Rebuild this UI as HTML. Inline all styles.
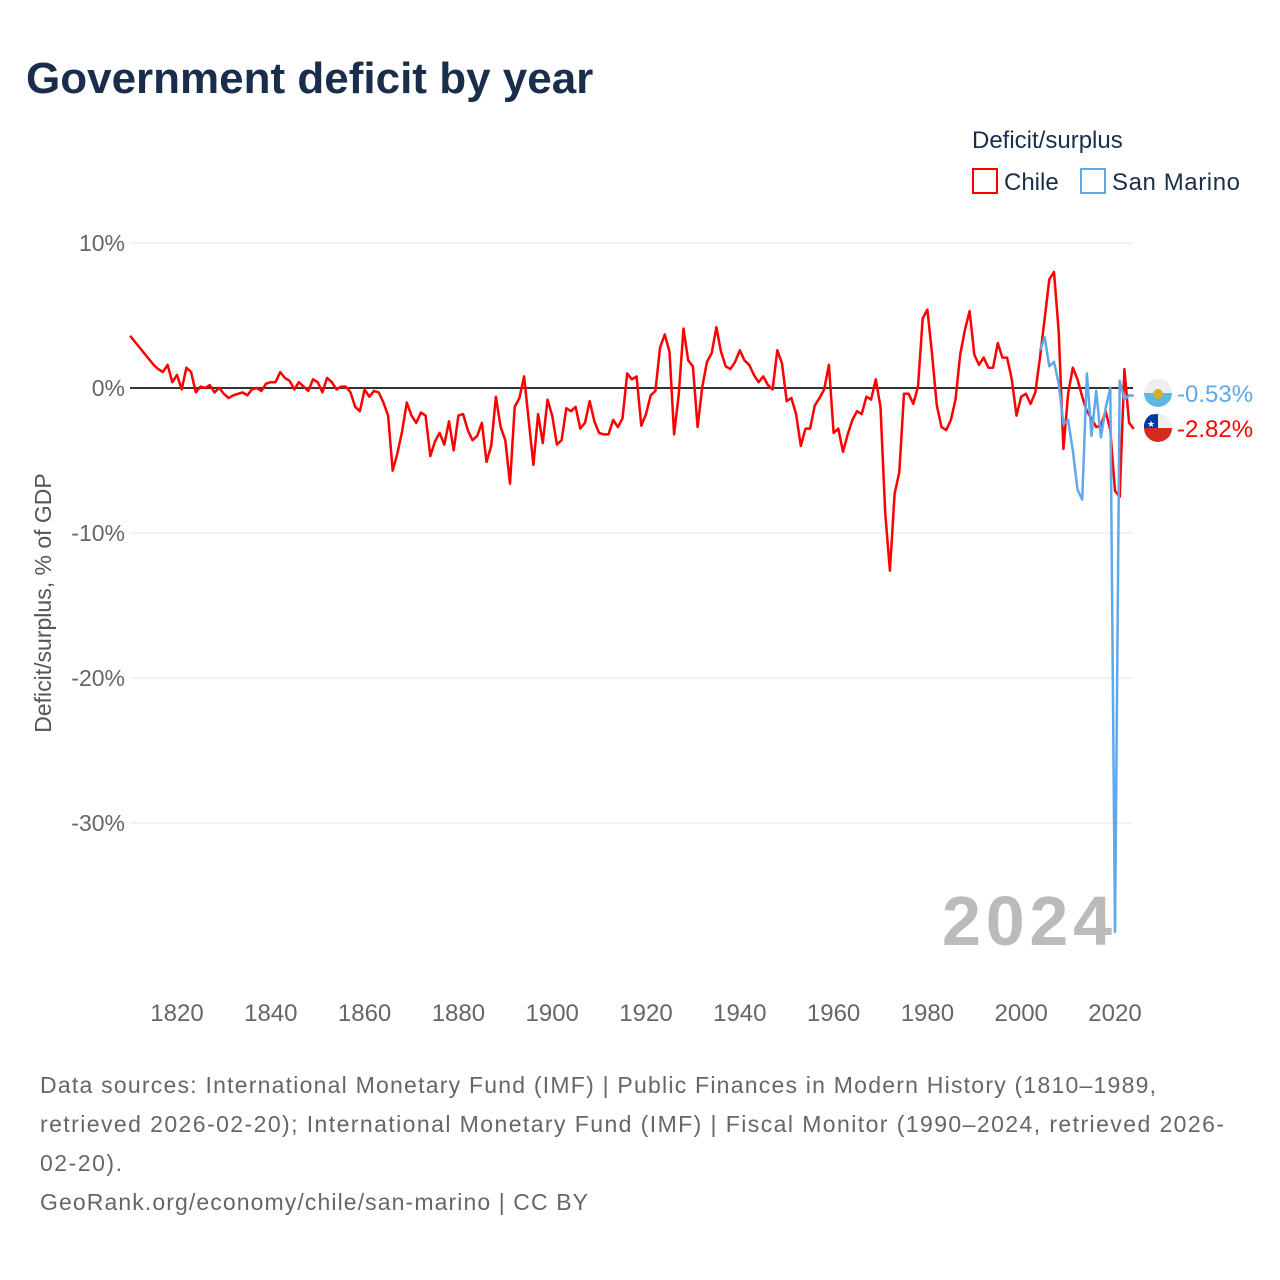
<!DOCTYPE html>
<html><head><meta charset="utf-8">
<style>
html,body{margin:0;padding:0;background:#fff;}
body{width:1280px;height:1280px;position:relative;font-family:"Liberation Sans",sans-serif;overflow:hidden;}
svg{position:absolute;left:0;top:0;}
</style></head>
<body>
<svg id="chart" width="1280" height="1280">
<text x="26" y="93" font-size="44" font-weight="bold" fill="#1a2e4c">Government deficit by year</text>
<text x="972" y="148" font-size="24" fill="#1a2e4c">Deficit/surplus</text>
<g>
<rect x="973" y="169" width="24" height="24" fill="none" stroke="#ff0000" stroke-width="2"/>
<text x="1004" y="190" font-size="24" fill="#1a2e4c">Chile</text></g>
<g>
<rect x="1081" y="169" width="24" height="24" fill="none" stroke="#5ea8ec" stroke-width="2"/>
<text x="1112" y="190" font-size="24" fill="#1a2e4c" textLength="128">San Marino</text></g>
<text transform="translate(51,603) rotate(-90)" text-anchor="middle" font-size="23" fill="#555">Deficit/surplus, % of GDP</text>
<text x="942" y="945" font-size="70" font-weight="bold" fill="#bbb" textLength="170">2024</text>
<g id="grid"></g><g id="series"></g>
<text x="40" y="1093" font-size="23" fill="#666" textLength="1116">Data sources: International Monetary Fund (IMF) | Public Finances in Modern History (1810–1989,</text>
<text x="40" y="1132" font-size="23" fill="#666" textLength="1184">retrieved 2026-02-20); International Monetary Fund (IMF) | Fiscal Monitor (1990–2024, retrieved 2026-</text>
<text x="40" y="1171" font-size="23" fill="#666" textLength="82">02-20).</text>
<text x="40" y="1210" font-size="23" fill="#666" textLength="548">GeoRank.org/economy/chile/san-marino | CC BY</text>
</svg>
<script>
const yTicks=[10,0,-10,-20,-30];
const yTickLabels=["10%","0%","-10%","-20%","-30%"];
const xTicks=[1820,1840,1860,1880,1900,1920,1940,1960,1980,2000,2020];
const chileStart=1810;
const chileValues=[3.6,3.2,2.8,2.4,2.0,1.6,1.3,1.1,
1.6,0.4,0.9,-0.1,1.4,1.1,-0.3,0.1,0,0.2,-0.3,0,-0.4,-0.7,-0.5,-0.4,-0.3,-0.5,-0.1,0,-0.2,0.3,0.4,0.4,1.1,0.7,0.5,-0.1,0.4,0.1,-0.2,0.6,0.4,-0.3,0.7,0.4,-0.1,0.1,0.1,-0.3,-1.3,-1.6,-0.1,-0.6,-0.2,-0.3,-1.0,-1.9,
-5.7,-4.5,-3.0,-1.0,-1.9,-2.4,-1.7,-1.9,-4.7,-3.7,-3.1,-3.9,-2.3,-4.3,-1.9,-1.8,-2.9,-3.6,-3.3,-2.4,-5.1,-4.0,-0.6,-2.7,-3.6,-6.6,-1.3,-0.7,0.8,-2.3,-5.3,-1.8,-3.8,-0.8,-1.9,-3.9,-3.6,-1.4,-1.6,-1.3,-2.8,-2.4,-0.9,-2.3,-3.1,-3.2,-3.2,-2.2,-2.7,-2.1,1.0,0.6,0.8,-2.6,-1.8,-0.5,-0.2,2.8,3.7,2.5,-3.2,-0.4,4.1,1.9,1.5,-2.7,0.1,1.8,2.4,4.2,2.5,1.5,1.3,1.8,2.6,1.9,1.6,0.9,0.4,0.8,0.2,-0.1,2.6,1.7,-0.9,-0.7,-1.8,-4.0,-2.8,-2.8,-1.2,-0.7,-0.1,1.6,-3.1,-2.8,-4.4,-3.2,-2.2,-1.6,-1.8,-0.6,-0.8,0.6,-1.3,
-8.6,-12.6,-7.3,-5.8,-0.4,-0.4,-1.1,0.1,4.8,5.4,2.3,-1.2,-2.7,-2.9,-2.2,-0.8,2.3,4.0,5.3,2.3,1.6,2.1,1.4,1.4,3.1,2.1,2.1,0.6,-1.9,-0.6,-0.4,-1.1,-0.3,2.1,4.8,7.5,8.0,3.9,-4.2,-0.4,1.4,0.6,-0.6,-1.6,-2.1,-2.7,-2.6,-1.6,-2.9,-7.1,-7.5,1.3,-2.4,-2.82];
const smStart=2004;
const smValues=[2.6,3.5,1.5,1.8,0.3,-2.5,-2.2,-4.3,-7.0,-7.7,1.0,-3.3,-0.2,-3.4,-1.4,0.0,-37.5,0.5,-0.8,-0.5,-0.53];
const NS="http://www.w3.org/2000/svg";
const xS=y=>177+(y-1820)*(1115-177)/200;
const yS=v=>388-v*14.5;
const grid=document.getElementById('grid'),ser=document.getElementById('series');
yTicks.forEach((t,i)=>{
 const l=document.createElementNS(NS,'line');
 
 
 l.setAttribute('x1',130);l.setAttribute('x2',1133);l.setAttribute('y1',yS(t));l.setAttribute('y2',yS(t));
 l.setAttribute('stroke',t===0?'#333':'#e4e4e4');l.setAttribute('stroke-width',t===0?2:1);
 grid.appendChild(l);
 const tx=document.createElementNS(NS,'text');
 
 
 tx.setAttribute('x',125);tx.setAttribute('y',yS(t)+8);tx.setAttribute('text-anchor','end');
 tx.setAttribute('font-size','23');tx.setAttribute('fill','#666');tx.textContent=yTickLabels[i];
 grid.appendChild(tx);
});
xTicks.forEach(t=>{
 const tx=document.createElementNS(NS,'text');
 
 
 tx.setAttribute('x',xS(t));tx.setAttribute('y',1021);tx.setAttribute('text-anchor','middle');
 tx.setAttribute('font-size','24');tx.setAttribute('fill','#666');tx.textContent=t;
 grid.appendChild(tx);
});
function line(start,vals,color,name){
 const p=document.createElementNS(NS,'polyline');
 
 
 p.setAttribute('points',vals.map((v,i)=>xS(start+i).toFixed(1)+','+yS(v).toFixed(1)).join(' '));
 p.setAttribute('fill','none');p.setAttribute('stroke',color);p.setAttribute('stroke-width',2.5);
 p.setAttribute('stroke-linejoin','round');
 ser.appendChild(p);
}
line(chileStart,chileValues,'#ff0000','chile-line');
line(smStart,smValues,'#5ea8ec','san-marino-line');
function endLabel(start,vals,color,name,ly,flag){
 const last=vals[vals.length-1];
 const g=document.createElementNS(NS,'g');
 
 
 g.innerHTML=flag+'<text x="1177" y="'+(ly+9)+'" font-size="24" fill="'+color+'">'+last.toFixed(2)+'%</text>';
 ser.appendChild(g);
}
endLabel(smStart,smValues,'#5ea8ec','san-marino-end-label',393,
 '<circle cx="1158" cy="393" r="14" fill="#eee"/><path d="M1144,393 h28 a14,14 0 0 1 -28,0z" fill="#5eb6e4"/><circle cx="1158" cy="394" r="5" fill="#d4b02a"/>');
endLabel(chileStart,chileValues,'#ff0000','chile-end-label',428,
 '<circle cx="1158" cy="428" r="14" fill="#eee"/><path d="M1144,428 h28 a14,14 0 0 1 -28,0z" fill="#d52b1e"/><path d="M1151,414.5 a14,14 0 0 0 -7,13.5 h14 v-14z" fill="#0039a6"/><text x="1151" y="427" font-size="9" fill="#fff" text-anchor="middle">★</text>');
</script>
</body></html>
